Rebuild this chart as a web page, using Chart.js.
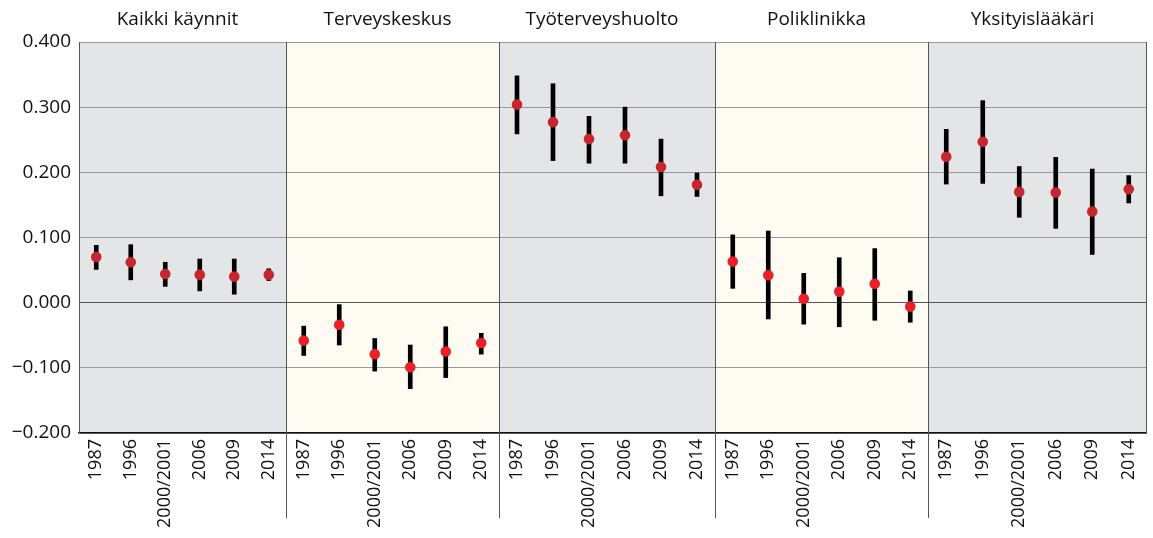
<!DOCTYPE html>
<html>
<head>
<meta charset="utf-8">
<script src="https://cdn.jsdelivr.net/npm/chart.js@4.4.1/dist/chart.umd.min.js"></script>
<style>
  body { margin: 0; background: #fff; }
  #wrap { position: relative; width: 1153px; height: 538px; }
  .panel { position: absolute; top: 0; height: 538px; }
</style>
</head>
<body>
<div id="wrap"></div>
<script>
// data
const years = ["1987", "1996", "2000/2001", "2006", "2009", "2014"];
const titles = ["Kaikki käynnit", "Terveyskeskus", "Työterveyshuolto", "Poliklinikka", "Yksityislääkäri"];
const yTicks = [-0.2, -0.1, 0, 0.1, 0.2, 0.3, 0.4];

const kaikkiMean = [0.070, 0.062, 0.044, 0.043, 0.040, 0.043];
const kaikkiLow  = [0.051, 0.035, 0.025, 0.018, 0.013, 0.034];
const kaikkiHigh = [0.088, 0.089, 0.062, 0.067, 0.067, 0.052];

const tkMean = [-0.058, -0.034, -0.079, -0.099, -0.075, -0.062];
const tkLow  = [-0.081, -0.065, -0.105, -0.132, -0.115, -0.079];
const tkHigh = [-0.036, -0.003, -0.055, -0.065, -0.037, -0.047];

const tthMean = [0.304, 0.277, 0.251, 0.257, 0.208, 0.181];
const tthLow  = [0.259, 0.218, 0.214, 0.214, 0.164, 0.163];
const tthHigh = [0.348, 0.336, 0.286, 0.300, 0.251, 0.199];

const polMean = [0.063, 0.042, 0.006, 0.017, 0.029, -0.006];
const polLow  = [0.022, -0.025, -0.033, -0.037, -0.027, -0.030];
const polHigh = [0.104, 0.110, 0.045, 0.069, 0.083, 0.018];

const yksMean = [0.224, 0.247, 0.170, 0.169, 0.140, 0.174];
const yksLow  = [0.182, 0.183, 0.131, 0.114, 0.074, 0.153];
const yksHigh = [0.266, 0.310, 0.209, 0.223, 0.205, 0.195];

const means = [kaikkiMean, tkMean, tthMean, polMean, yksMean];
const lows = [kaikkiLow, tkLow, tthLow, polLow, yksLow];
const highs = [kaikkiHigh, tkHigh, tthHigh, polHigh, yksHigh];

// layout
const edges = [0, 286, 499, 715, 928, 1147];
const bgColors = ["#e4e5e7", "#fefbf2", "#e4e5e7", "#fefbf2", "#e4e5e7"];
const dotColors = ["#c8262e", "#ea1f27", "#c8262e", "#ea1f27", "#c8262e"];
const FONT = "'Open Sans', 'DejaVu Sans', sans-serif";

Chart.defaults.font.family = FONT;
Chart.defaults.font.weight = "500";
Chart.defaults.color = "#111";

function fmt(v) {
    const r = Math.round(v * 1000) / 1000;
    if (r === 0) return "0.000";
    return (r < 0 ? "\u2212" : "") + Math.abs(r).toFixed(3);
}

const panelPlugin = {
    id: "panelPlugin",
    beforeDraw(chart, args, opts) {
        const { ctx, chartArea: a } = chart;
        ctx.save();
        ctx.fillStyle = opts.bg;
        ctx.fillRect(a.left, a.top, a.right - a.left, a.bottom - a.top);
        ctx.restore();
    },
    afterDraw(chart, args, opts) {
        const { ctx, chartArea: a } = chart;
        ctx.save();
        ctx.strokeStyle = "#555";
        ctx.lineWidth = 1;
        if (opts.index > 0) {
            // separator runs down through the tick labels
            ctx.beginPath();
            ctx.moveTo(a.left + 0.5, a.top);
            ctx.lineTo(a.left + 0.5, 518);
            ctx.stroke();
        }
        if (opts.index === 4) {
            ctx.beginPath();
            ctx.moveTo(a.right - 0.5, a.top);
            ctx.lineTo(a.right - 0.5, a.bottom);
            ctx.stroke();
        }
        // panel title, sits a little left of centre like the original
        ctx.fillStyle = "#111";
        ctx.font = "500 19px " + FONT;
        ctx.textAlign = "center";
        ctx.textBaseline = "middle";
        ctx.fillText(opts.title, (a.left + a.right) / 2 - 5, 20);
        ctx.restore();
    }
};

const wrap = document.getElementById("wrap");

titles.forEach((title, i) => {
    const div = document.createElement("div");
    div.className = "panel";
    div.style.left = edges[i] + "px";
    div.style.width = (edges[i + 1] - edges[i]) + "px";
    const canvas = document.createElement("canvas");
    div.appendChild(canvas);
    wrap.appendChild(div);

    const first = i === 0;
    const bars = lows[i].map((lo, k) => [lo, highs[i][k]]);

    new Chart(canvas, {
        type: "bar",
        data: {
            labels: years,
            datasets: [
                {
                    type: "line",
                    data: means[i],
                    showLine: false,
                    pointRadius: 5.3,
                    pointBorderWidth: 0,
                    pointBackgroundColor: dotColors[i],
                    clip: false,
                    order: 0
                },
                {
                    data: bars,
                    backgroundColor: "#000",
                    barThickness: 4,
                    order: 1
                }
            ]
        },
        options: {
            responsive: true,
            maintainAspectRatio: false,
            animation: false,
            layout: { autoPadding: false, padding: { top: 42, bottom: 0, left: 0, right: 0 } },
            plugins: {
                legend: { display: false },
                tooltip: { enabled: false },
                panelPlugin: { bg: bgColors[i], title: title, index: i }
            },
            scales: {
                x: {
                    grid: { color: "transparent", drawTicks: false },
                    border: { display: true, color: "#111", width: 1.5 },
                    ticks: {
                        autoSkip: false,
                        minRotation: 90,
                        maxRotation: 90,
                        padding: 6,
                        font: { size: 18 },
                        color: "#111"
                    },
                    afterFit: (scale) => {
                        scale.height = 105;
                        scale.paddingLeft = 0;
                        scale.paddingRight = 0;
                    }
                },
                y: {
                    min: -0.2,
                    max: 0.4,
                    afterBuildTicks: (scale) => { scale.ticks = yTicks.map(v => ({ value: v })); },
                    grid: {
                        drawTicks: false,
                        color: (c) => (c.tick && c.tick.value === 0 ? "#555" : "#9a9a9a"),
                        lineWidth: 1
                    },
                    border: { display: first, color: "#555", width: 1 },
                    ticks: {
                        display: first,
                        padding: 8,
                        font: { size: 19 },
                        color: "#111",
                        callback: (v) => fmt(v)
                    },
                    afterFit: (scale) => { scale.width = first ? 79 : 0; }
                }
            }
        },
        plugins: [panelPlugin]
    });
});
</script>
</body>
</html>
